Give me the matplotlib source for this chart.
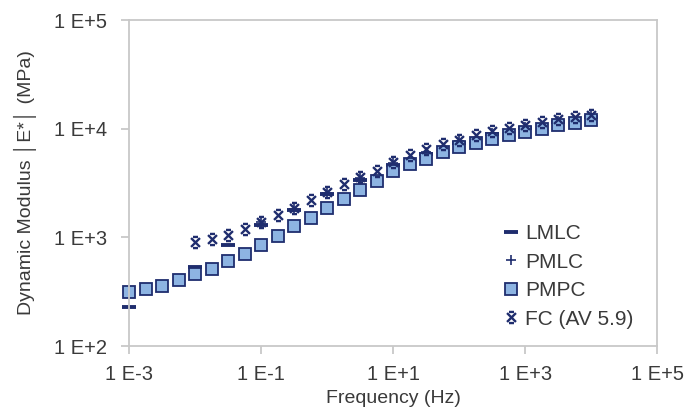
import matplotlib
matplotlib.use('Agg')
import matplotlib.pyplot as plt
from matplotlib.path import Path
from matplotlib.ticker import FixedLocator, NullLocator

plt.rcParams['font.family'] = ['Liberation Sans', 'DejaVu Sans']

# Frequency (Hz), 4 points per decade
freq = [1.00e-3, 1.78e-3, 3.16e-3, 5.62e-3, 1.00e-2, 1.78e-2, 3.16e-2, 5.62e-2,
        1.00e-1, 1.78e-1, 3.16e-1, 5.62e-1, 1.00, 1.78, 3.16, 5.62,
        10.0, 17.8, 31.6, 56.2, 100.0, 178.0, 316.0, 562.0,
        1000.0, 1780.0, 3160.0, 5620.0, 10000.0]

# PMPC, all frequencies
pmpc = [314, 337, 354, 402, 463, 515, 601, 708,
        857, 1021, 1262, 1517, 1862, 2270, 2748, 3296,
        4074, 4764, 5297, 6095, 6761, 7413, 8035, 8710,
        9333, 10000, 10715, 11350, 12020]

# FC (AV 5.9), from 1E-2 Hz up
fc_freq = freq[4:]
fc = [906, 973, 1059, 1185, 1396, 1603, 1849, 2188,
      2612, 3119, 3589, 4074, 4898, 5754, 6457, 7244,
      7943, 8710, 9441, 10116, 10839, 11482, 12303, 12882, 13490]

# LMLC
lmlc_freq = [1.00e-3, 1.00e-2, 3.16e-2, 1.00e-1, 3.16e-1, 1.00, 3.16,
             10.0, 31.6, 100.0, 316.0, 1000.0, 3160.0, 10000.0]
lmlc = [229, 533, 843, 1288, 1778, 2512, 3388,
        4677, 5888, 7413, 8913, 10233, 11482, 12882]

# PMLC
pmlc_freq = [1.00e-1, 3.16e-1, 1.00, 3.16, 10.0, 31.6, 100.0, 316.0,
             1000.0, 3160.0, 10000.0]
pmlc = [1380, 1820, 2570, 3548, 4786, 6166, 7762, 9120,
        10471, 11749, 13183]

navy = '#1F2D6E'
light = '#8DB4E2'
axis_grey = '#C8C8C8'
text_col = '#3A3A3A'

# X with short bars on top and bottom, as in the original FC marker
fc_marker = Path([(-0.8, 0.8), (0.8, -0.8), (-0.8, -0.8), (0.8, 0.8),
                  (-0.45, 1), (0.45, 1), (-0.45, -1), (0.45, -1)],
                 [Path.MOVETO, Path.LINETO, Path.MOVETO, Path.LINETO,
                  Path.MOVETO, Path.LINETO, Path.MOVETO, Path.LINETO])

fig = plt.figure(figsize=(6.88, 4.09), dpi=100)
ax = fig.add_axes([0.1875, 0.154, 0.768, 0.797])

common = dict(linestyle='none', clip_on=False)
ax.plot(lmlc_freq, lmlc, marker='_', markersize=10, markeredgewidth=2.8,
        color=navy, label='LMLC', **common)
ax.plot(pmlc_freq, pmlc, marker='+', markersize=7, markeredgewidth=1.2,
        color=navy, label='PMLC', **common)
ax.plot(freq, pmpc, marker='s', markersize=9, markerfacecolor=light,
        markeredgecolor=navy, markeredgewidth=1.3, label='PMPC', **common)
ax.plot(fc_freq, fc, marker=fc_marker, markersize=8, markeredgewidth=1.7,
        color=navy, label='FC (AV 5.9)', **common)

ax.set_xscale('log')
ax.set_yscale('log')
ax.set_xlim(1e-3, 1e5)
ax.set_ylim(1e2, 1e5)

xt = [1e-3, 1e-1, 1e1, 1e3, 1e5]
yt = [1e2, 1e3, 1e4, 1e5]
ax.xaxis.set_major_locator(FixedLocator(xt))
ax.yaxis.set_major_locator(FixedLocator(yt))
ax.xaxis.set_minor_locator(NullLocator())
ax.yaxis.set_minor_locator(NullLocator())
ax.set_xticklabels(['1 E-3', '1 E-1', '1 E+1', '1 E+3', '1 E+5'])
ax.set_yticklabels(['1 E+2', '1 E+3', '1 E+4', '1 E+5'])

for s in ax.spines.values():
    s.set_color(axis_grey)
    s.set_linewidth(1.3)
ax.tick_params(axis='both', which='major', direction='out', length=6,
               width=1.3, color=axis_grey, labelsize=14.5,
               labelcolor=text_col)
ax.tick_params(axis='y', pad=10)
ax.tick_params(axis='x', pad=8)

ax.set_xlabel('Frequency (Hz)', fontsize=14, color=text_col, labelpad=4)
ax.set_ylabel('Dynamic Modulus \u2502E*\u2502 (MPa)', fontsize=14,
              color=text_col, labelpad=12)

leg = ax.legend(loc='upper left', bbox_to_anchor=(0.688, 0.405),
                frameon=False, fontsize=15, handlelength=0.8,
                handletextpad=0.25, labelspacing=0.45, borderpad=0,
                labelcolor=text_col)

fig.savefig('out.png', dpi=100, facecolor='white')
